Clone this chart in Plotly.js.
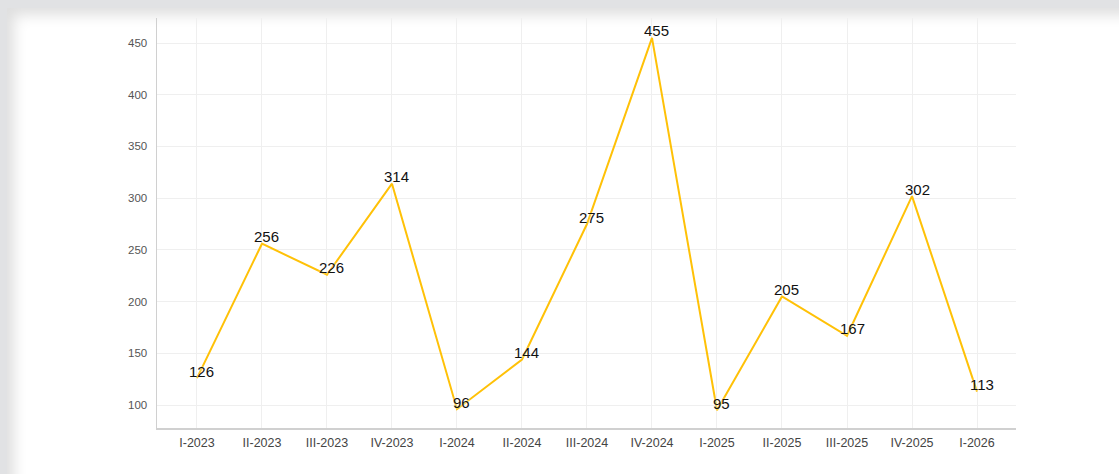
<!DOCTYPE html>
<html>
<head>
<meta charset="utf-8">
<script src="https://cdn.plot.ly/plotly-3.0.1.min.js"></script>
<style>
html,body{margin:0;padding:0;width:1119px;height:474px;overflow:hidden;background:#e1e2e4;}
#card{position:absolute;left:7px;top:8px;width:1200px;height:600px;background:#fff;box-shadow:inset 7px 7px 14px rgba(0,0,0,0.13);}
#chart{position:absolute;left:0;top:0;width:1119px;height:474px;}
</style>
</head>
<body>
<div id="card"></div>
<div id="chart"></div>
<script>
var quarters = ["I-2023","II-2023","III-2023","IV-2023","I-2024","II-2024","III-2024","IV-2024","I-2025","II-2025","III-2025","IV-2025","I-2026"];
var values = [126,256,226,314,96,144,275,455,95,205,167,302,113];
var yTicks = [100,150,200,250,300,350,400,450];

var trace = {
  x: quarters,
  y: values,
  type: "scatter",
  mode: "lines",
  line: {color: "#FFC107", width: 2},
  hoverinfo: "x+y"
};

var annotations = quarters.map(function(q, i){
  return {
    x: q, y: values[i], xref: "x", yref: "y",
    text: String(values[i]), showarrow: false,
    xanchor: "center", yanchor: "middle", yshift: 7, xshift: 5,
    font: {family: "Liberation Sans, Arial, sans-serif", size: 15, color: "#111", shadow: "0px 0px 3px #fff"}
  };
});

var layout = {
  width: 1119, height: 474,
  margin: {l: 157, r: 103, t: 18, b: 46},
  paper_bgcolor: "rgba(0,0,0,0)",
  plot_bgcolor: "rgba(0,0,0,0)",
  showlegend: false,
  font: {family: "Liberation Sans, Arial, sans-serif"},
  xaxis: {
    type: "category",
    range: [-0.615, 12.6],
    showgrid: true, gridcolor: "#efefef", gridwidth: 1,
    showline: true, linecolor: "#d0d0d0", linewidth: 1.5,
    ticks: "", ticklabelstandoff: 2,
    tickfont: {size: 12.5, color: "#444"},
    zeroline: false, fixedrange: true
  },
  yaxis: {
    range: [77.8, 474.2],
    tickvals: yTicks, ticktext: yTicks.map(String),
    showgrid: true, gridcolor: "#efefef", gridwidth: 1,
    showline: true, linecolor: "#d0d0d0", linewidth: 1.5,
    ticks: "", ticklabelstandoff: 6,
    tickfont: {size: 11.5, color: "#555"},
    zeroline: false, fixedrange: true
  },
  annotations: annotations
};

Plotly.newPlot("chart", [trace], layout, {displayModeBar: false, staticPlot: true});
</script>
</body>
</html>
